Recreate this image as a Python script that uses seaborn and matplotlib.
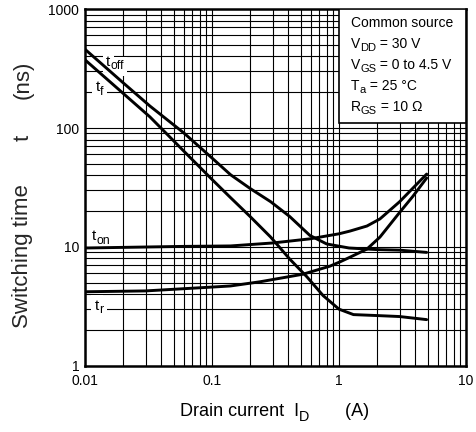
import numpy as np
import pandas as pd
import matplotlib
matplotlib.use("Agg")
import matplotlib.pyplot as plt
import matplotlib.patches as patches
import matplotlib.transforms as mtransforms
import seaborn as sns

# curves (I_D in A, t in ns)
toff_id = [0.01, 0.02, 0.0325, 0.06, 0.1, 0.14, 0.2, 0.29, 0.41, 0.59, 0.8, 1.2, 2.0, 3.0, 4.9]
toff_t = [460, 240, 153, 91, 56, 40.5, 31, 24, 18, 12.5, 10.6, 9.8, 9.5, 9.4, 9.0]

tf_id = [0.01, 0.0325, 0.06, 0.1, 0.14, 0.2, 0.29, 0.41, 0.56, 0.75, 1.0, 1.3, 2.0, 3.0, 4.9]
tf_t = [375, 124, 64, 37, 26, 18, 12.1, 7.9, 5.6, 3.9, 3.0, 2.7, 2.65, 2.6, 2.45]

ton_id = [0.01, 0.056, 0.14, 0.3, 0.59, 1.0, 1.22, 1.66, 2.1, 3.0, 4.9]
ton_t = [9.8, 10.1, 10.2, 10.8, 11.7, 12.9, 13.6, 15, 17.2, 24, 41]

tr_id = [0.01, 0.03, 0.1, 0.14, 0.24, 0.52, 0.85, 1.02, 1.22, 1.66, 2.1, 3.0, 3.8, 4.9]
tr_t = [4.2, 4.27, 4.6, 4.7, 5.1, 5.9, 6.9, 7.5, 8.2, 9.6, 12.1, 19.5, 26.5, 38]

x_ticks = [0.01, 0.1, 1, 10]
x_ticklabels = ["0.01", "0.1", "1", "10"]
y_ticks = [1, 10, 100, 1000]
y_ticklabels = ["1", "10", "100", "1000"]

# (text, is_subscript) pieces
conditions = [
    [("Common source", False)],
    [("V", False), ("DD", True), (" = 30 V", False)],
    [("V", False), ("GS", True), (" = 0 to 4.5 V", False)],
    [("T", False), ("a", True), (" = 25 °C", False)],
    [("R", False), ("GS", True), (" = 10 Ω", False)],
]

frames = []
for name, xs, ys in [("toff", toff_id, toff_t), ("tf", tf_id, tf_t),
                     ("ton", ton_id, ton_t), ("tr", tr_id, tr_t)]:
    frames.append(pd.DataFrame({"curve": name, "ID": xs, "t": ys}))
df = pd.concat(frames, ignore_index=True)

sns.set_style("white")
plt.rcParams["font.family"] = ["Liberation Sans", "DejaVu Sans"]

fig = plt.figure(figsize=(4.77, 4.32), dpi=100)
ax = fig.add_axes([0.178, 0.153, 0.799, 0.826])
renderer = fig.canvas.get_renderer()


def sub_text(x, y, parts, transform, size, box=False, zorder=4):
    """Write text pieces one after another, subscripts smaller and lower."""
    dx = 0.0
    for s, is_sub in parts:
        fs = size * 0.8 if is_sub else size
        dy = -size * 0.3 if is_sub else 0.0
        tr = mtransforms.offset_copy(transform, fig=fig, x=dx, y=dy, units="points")
        if box:
            # white patch under the label so the grid is cut around it
            ax.text(x, y, s, transform=tr, fontsize=fs, ha="left", va="center",
                    color="white", zorder=zorder - 0.1,
                    bbox=dict(facecolor="white", edgecolor="none", pad=2.5))
        t = ax.text(x, y, s, transform=tr, fontsize=fs, ha="left", va="center",
                    zorder=zorder, color="black")
        dx += t.get_window_extent(renderer).width * 72.0 / fig.dpi


sns.lineplot(data=df, x="ID", y="t", hue="curve", units="curve",
             palette={"toff": "black", "tf": "black", "ton": "black", "tr": "black"},
             estimator=None, sort=False, legend=False, lw=2.1, ax=ax, zorder=2)

ax.set_xscale("log")
ax.set_yscale("log")
ax.set_xlim(0.01, 10)
ax.set_ylim(1, 1000)

ax.set_axisbelow(True)
ax.grid(which="both", color="black", lw=0.8)
for s in ax.spines.values():
    s.set_color("black")
    s.set_linewidth(1.8)

ax.set_xticks(x_ticks)
ax.set_xticklabels(x_ticklabels)
ax.set_yticks(y_ticks)
ax.set_yticklabels(y_ticklabels)
ax.tick_params(which="both", length=0, labelsize=10, colors="black", pad=6)
ax.tick_params(axis="y", pad=4)
ax.set_xlabel("")
ax.set_ylabel("")

# axis titles
sub_text(180 / 477, 1 - 412 / 432,
         [("Drain current  I", False), ("D", True), ("       (A)", False)],
         fig.transFigure, 13)
fig.text(23 / 477, 1 - 256 / 432, "Switching time", rotation=90, fontsize=16,
         ha="center", va="center")
fig.text(23 / 477, 1 - 138 / 432, "t", rotation=90, fontsize=16,
         ha="center", va="center")
fig.text(23 / 477, 1 - 80 / 432, "(ns)", rotation=90, fontsize=16,
         ha="center", va="center")

# curve labels with white boxes over the grid
sub_text(0.0147, 362, [("t", False), ("off", True)], ax.transData, 11, True, 1.6)
sub_text(0.0122, 220, [("t", False), ("f", True)], ax.transData, 11, True, 1.6)
sub_text(0.01135, 12.3, [("t", False), ("on", True)], ax.transData, 11, True, 1.6)
sub_text(0.0120, 3.2, [("t", False), ("r", True)], ax.transData, 11, True, 1.6)

# conditions box
ax.add_patch(patches.Rectangle((0.667, 0.681), 0.333, 0.319, transform=ax.transAxes,
                               facecolor="white", edgecolor="black", lw=1.2, zorder=3))
for i, line in enumerate(conditions):
    sub_text(0.698, 0.961 - i * 0.0588, line, ax.transAxes, 10)

fig.savefig("out.png", dpi=100)
